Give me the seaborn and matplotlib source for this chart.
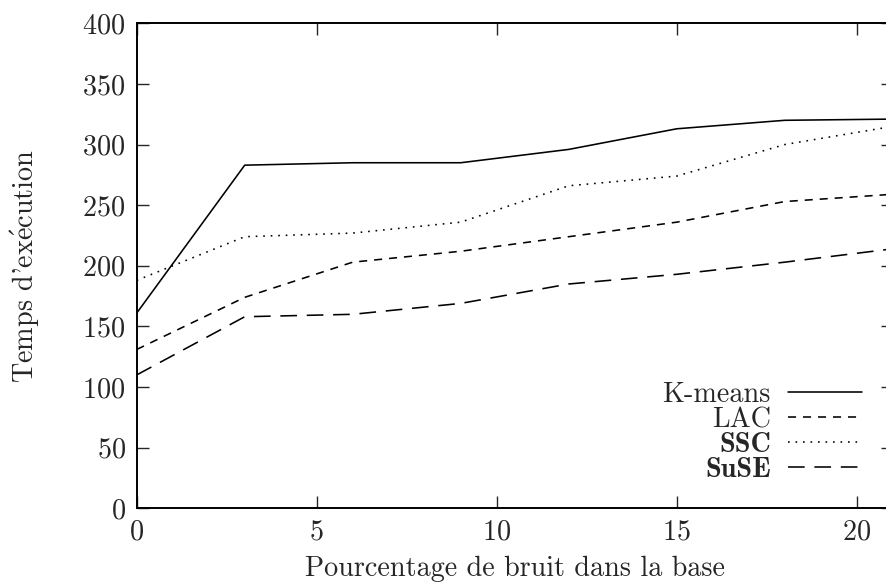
import matplotlib
matplotlib.use("Agg")
import matplotlib.pyplot as plt
import seaborn as sns
import pandas as pd

# Execution time vs. noise percentage for four clustering methods
noise = [0, 3, 6, 9, 12, 15, 18, 21]
kmeans = [161, 283, 285, 285, 296, 313, 320, 321]
lac = [131, 174, 203, 212, 224, 236, 253, 259]
ssc = [188, 224, 227, 236, 266, 274, 300, 315]
suse = [110, 158, 160, 169, 185, 193, 203, 214]

methods = ["K-means", "LAC", "SSC", "SuSE"]
series = [kmeans, lac, ssc, suse]

x_ticks = [0, 5, 10, 15, 20]
y_ticks = [0, 50, 100, 150, 200, 250, 300, 350, 400]

df = pd.DataFrame({
    "noise": noise * len(methods),
    "time": [v for s in series for v in s],
    "method": [m for m in methods for _ in noise],
})

sns.set_style("ticks")
plt.rcParams["font.family"] = ["cmr10", "DejaVu Serif"]
plt.rcParams["axes.formatter.use_mathtext"] = True
plt.rcParams["mathtext.fontset"] = "cm"
plt.rcParams["lines.scale_dashes"] = False

FS = 20.3

fig = plt.figure(figsize=(8.86, 5.84), dpi=100)
ax = fig.add_axes([0.1543, 0.1296, 0.8533, 0.8305])

dash_styles = {
    "K-means": "",
    "LAC": (5.8, 5.0),
    "SSC": (1.2, 4.2),
    "SuSE": (12.0, 7.0),
}

sns.lineplot(data=df, x="noise", y="time", style="method", style_order=methods,
             dashes=dash_styles, color="black", linewidth=1.15, ax=ax,
             legend=True)

ax.set_xlim(0, 21)
ax.set_ylim(0, 400)
ax.set_xticks(x_ticks)
ax.set_yticks(y_ticks)
ax.tick_params(direction="in", length=8.5, width=1.0, labelsize=FS,
               top=True, right=True, pad=8)
for side in ["left", "bottom", "top"]:
    ax.spines[side].set_linewidth(1.4)
    ax.spines[side].set_color("black")
ax.spines["right"].set_visible(False)

ax.set_xlabel("Pourcentage de bruit dans la base", fontsize=FS, labelpad=7)
ax.set_ylabel(r"Temps d'ex$\mathrm{\acute{e}}$cution", fontsize=FS, labelpad=29)

leg = ax.legend(loc="lower right", bbox_to_anchor=(0.959, 0.052), frameon=False,
                markerfirst=False, handlelength=2.6, handletextpad=0.62,
                labelspacing=-0.04, borderpad=0, borderaxespad=0,
                fontsize=FS)
for txt in leg.get_texts():
    if txt.get_text() in ("SSC", "SuSE"):
        txt.set_fontfamily(["cmb10", "DejaVu Serif"])
for line in leg.get_lines():
    line.set_linewidth(1.15)

fig.savefig("out.png", dpi=100)
